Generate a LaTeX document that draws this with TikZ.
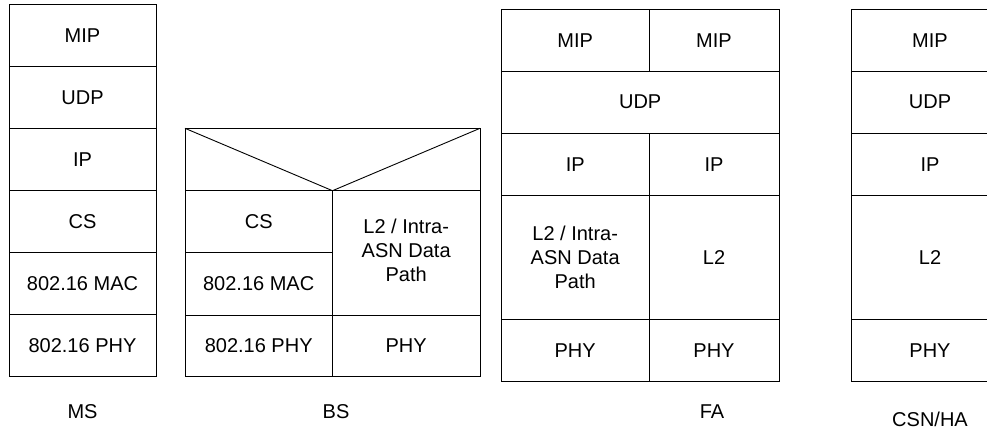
\documentclass[tikz,border=0pt]{standalone}
\usepackage{fontspec}
\setmainfont{Liberation Sans}
\begin{document}
\begin{tikzpicture}[x=1pt,y=-1pt,line width=0.9pt,
  txt/.style={font=\fontsize{20}{24}\selectfont,align=center,inner sep=0pt},
  box/.style={draw=black}]
\useasboundingbox (0,0) rectangle (987,429);
\clip (0,0) rectangle (987,429);
% ---------- MS ----------
\draw[box] (9,4.7) rectangle (156,376.7);
\foreach \y in {66.7,128.7,190.7,252.7,314.7}{\draw (9,\y) -- (156,\y);}
\node[txt] (msmip) at (82.5,35.7) {MIP};
\node[txt] (msudp) at (82.5,97.7) {UDP};
\node[txt] (msip)  at (82.5,159.7) {IP};
\node[txt] (mscs)  at (82.5,221.7) {CS};
\node[txt] (msmac) at (82.5,283.7) {802.16 MAC};
\node[txt] (msphy) at (82.5,345.7) {802.16 PHY};
\node[txt] (mslbl) at (82.5,412) {MS};
% ---------- BS ----------
\draw[box] (185,128.3) rectangle (480,376.7);
\draw (185,128.3) -- (332.5,190.7) -- (480,128.3);
\draw (185,190.7) -- (480,190.7);
\draw (185,252.7) -- (332.5,252.7);
\draw (185,315) -- (480,315);
\draw (332.5,190.7) -- (332.5,376.7);
\node[txt] (bscs)  at (258.7,221.7) {CS};
\node[txt] (bsmac) at (258.7,283.7) {802.16 MAC};
\node[txt] (bsphy) at (258.7,345.8) {802.16 PHY};
\node[txt] (bsl2)  at (406.2,250) {L2 / Intra-\\ASN Data\\Path};
\node[txt] (bsphy2) at (406.2,345.8) {PHY};
\node[txt] (bslbl) at (336,412) {BS};
% ---------- FA ----------
\draw[box] (501.5,9.3) rectangle (779,381);
\foreach \y in {71,133.3,195.7,319.3}{\draw (501.5,\y) -- (779,\y);}
\draw (649,9.3) -- (649,71);
\draw (649,133.3) -- (649,381);
\node[txt] (famip1) at (575.2,40.2) {MIP};
\node[txt] (famip2) at (714,40.2) {MIP};
\node[txt] (faudp)  at (640.2,102.2) {UDP};
\node[txt] (faip1)  at (575.2,164.5) {IP};
\node[txt] (faip2)  at (714,164.5) {IP};
\node[txt] (fal2a)  at (575.2,257) {L2 / Intra-\\ASN Data\\Path};
\node[txt] (fal2b)  at (714,257.5) {L2};
\node[txt] (faphy1) at (575.2,350.2) {PHY};
\node[txt] (faphy2) at (714,350.2) {PHY};
\node[txt] (falbl)  at (712,412) {FA};
% ---------- CSN/HA ----------
\draw[box] (851,9.3) rectangle (1010,381);
\foreach \y in {71,133.3,195.7,319.3}{\draw (851,\y) -- (1010,\y);}
\node[txt] (hamip) at (930,40.2) {MIP};
\node[txt] (haudp) at (930,102.2) {UDP};
\node[txt] (haip)  at (930,164.5) {IP};
\node[txt] (hal2)  at (930,257.5) {L2};
\node[txt] (haphy) at (930,350.2) {PHY};
\node[txt] (halbl) at (930,419) {CSN/HA};
\end{tikzpicture}
\end{document}
